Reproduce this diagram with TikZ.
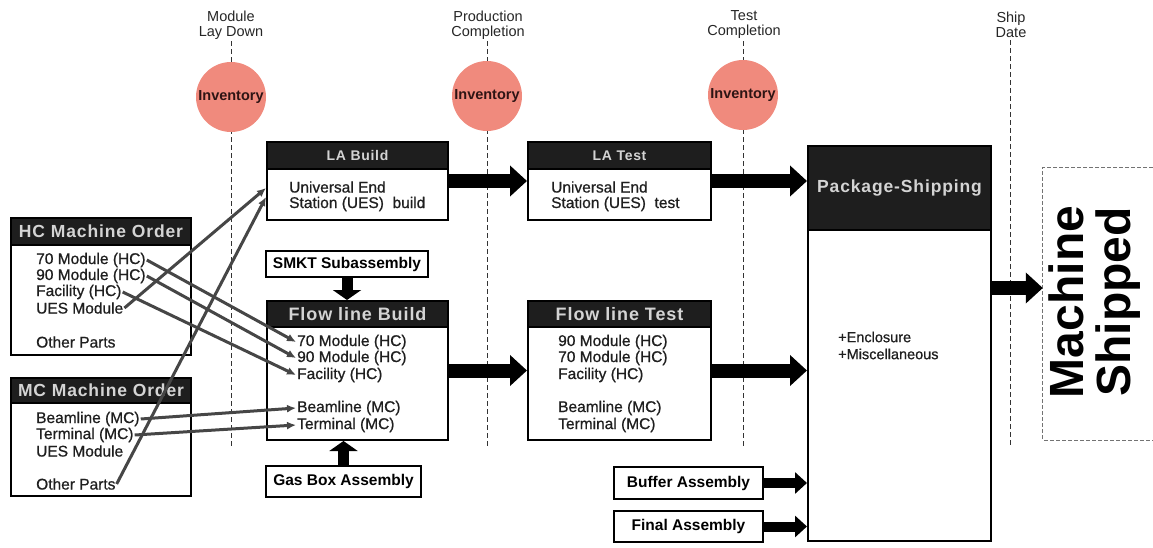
\documentclass[tikz,border=0pt]{standalone}
\usepackage{fontspec}
\setmainfont{Liberation Sans}
\newfontfamily\hdrfont[LetterSpace=5]{Liberation Sans}
\newfontfamily\bodyfont[FakeBold=0.7]{Liberation Sans}
\usetikzlibrary{arrows.meta}

\definecolor{hdrfill}{HTML}{1E1E1E}
\definecolor{hdrtext}{HTML}{D4D4D4}
\definecolor{invfill}{HTML}{F08A7D}
\definecolor{invtext}{HTML}{2E1414}
\definecolor{wire}{HTML}{464646}
\definecolor{gate}{HTML}{333333}

\tikzset{
  box/.style={draw=black, line width=2pt, fill=white, inner sep=0pt},
  hdrbar/.style={draw=black, line width=2pt, fill=hdrfill, text=hdrtext, inner sep=0pt},
  item/.style={anchor=west, inner sep=1pt, font=\bodyfont\fontsize{15.5}{16}\selectfont, text=black!88},
  tag/.style={box, font=\bfseries\fontsize{15.5}{16}\selectfont},
  inventory/.style={circle, fill=invfill, minimum size=70pt, inner sep=0pt,
    font=\bfseries\fontsize{14.5}{15}\selectfont, text=invtext},
  milestone/.style={align=center, inner sep=2pt, font=\fontsize{14.5}{15}\selectfont, text=black!85},
  gateline/.style={draw=gate, line width=1pt, dash pattern=on 5pt off 3pt},
  bigarrow/.style={line width=14pt, -{Triangle[length=17pt,width=30pt]}},
  midarrow/.style={line width=10pt, -{Triangle[length=12pt,width=21pt]}},
  uparrow/.style={line width=11pt, -{Triangle[length=10pt,width=28pt]}},
  wireline/.style={draw=wire, line width=3pt, -{Latex[length=9pt,width=8pt]}},
}

\begin{document}
\begin{tikzpicture}[x=1pt,y=-1pt]
\useasboundingbox (0,0) rectangle (1153,548);

% milestones with their dashed gate lines
\node[milestone] (m1) at (231,25) {Module\\Lay Down};
\node[milestone] (m2) at (488,25) {Production\\Completion};
\node[milestone] (m3) at (744,25) {Test\\Completion};
\node[milestone] (m4) at (1011,25) {Ship\\Date};
\coordinate (g1) at (231,447);
\coordinate (g2) at (487,447);
\coordinate (g3) at (743,447);
\coordinate (g4) at (1010,447);
\draw[gateline] (m1.south) -- (g1);
\draw[gateline] (m2.south -| g2) -- (g2);
\draw[gateline] (m3.south -| g3) -- (g3);
\draw[gateline] (m4.south -| g4) -- (g4);

\node[inventory] (i1) at (231,97) {Inventory};
\node[inventory] (i2) at (487,96) {Inventory};
\node[inventory] (i3) at (743,95) {Inventory};

% HC machine order
\node[box, minimum width=180pt, minimum height=137pt] (hc) at (101,286.5) {};
\node[hdrbar, minimum width=180pt, minimum height=27pt, anchor=north,
  font=\hdrfont\bfseries\fontsize{17.5}{18}\selectfont] (hch) at (hc.north) {HC Machine Order};
\node[item] (hc70) at (35,260) {70 Module (HC)};
\node[item] (hc90) at (35,276) {90 Module (HC)};
\node[item] (hcfac) at (35,292) {Facility (HC)};
\node[item] (hcues) at (35,308) {UES Module};
\node[item] (hcoth) at (35,342) {Other Parts};

% MC machine order
\node[box, minimum width=180pt, minimum height=118pt] (mc) at (101,437) {};
\node[hdrbar, minimum width=180pt, minimum height=25pt, anchor=north,
  font=\hdrfont\bfseries\fontsize{17.5}{18}\selectfont] (mch) at (mc.north) {MC Machine Order};
\node[item] (mcbeam) at (35,419) {Beamline (MC)};
\node[item] (mcterm) at (35,435) {Terminal (MC)};
\node[item] (mcues) at (35,451) {UES Module};
\node[item] (mcoth) at (35,484) {Other Parts};

% LA build and test
\node[box, minimum width=181pt, minimum height=78pt] (lab) at (357.5,181) {};
\node[hdrbar, minimum width=181pt, minimum height=27pt, anchor=north,
  font=\hdrfont\bfseries\fontsize{14}{15}\selectfont] (labh) at (lab.north) {LA Build};
\node[item] (lab1) at (288,187) {Universal End};
\node[item] (lab2) at (288,204) {Station (UES)\ \ build};

\node[box, minimum width=183pt, minimum height=78pt] (lat) at (619.5,181) {};
\node[hdrbar, minimum width=183pt, minimum height=27pt, anchor=north,
  font=\hdrfont\bfseries\fontsize{14}{15}\selectfont] (lath) at (lat.north) {LA Test};
\node[item] (lat1) at (550,187) {Universal End};
\node[item] (lat2) at (550,204) {Station (UES)\ \ test};

% flow line build and test
\node[tag, minimum width=162pt, minimum height=26pt] (smkt) at (347,264) {SMKT Subassembly};

\node[box, minimum width=181pt, minimum height=139pt] (fb) at (357.5,370.5) {};
\node[hdrbar, minimum width=181pt, minimum height=26pt, anchor=north,
  font=\hdrfont\bfseries\fontsize{18}{19}\selectfont] (fbh) at (fb.north) {Flow line Build};
\node[item] (fb70) at (296,342) {70 Module (HC)};
\node[item] (fb90) at (296,358) {90 Module (HC)};
\node[item] (fbfac) at (296,375) {Facility (HC)};
\node[item] (fbbeam) at (296,408) {Beamline (MC)};
\node[item] (fbterm) at (296,425) {Terminal (MC)};

\node[tag, minimum width=155pt, minimum height=31pt] (gas) at (343.5,481.5) {Gas Box Assembly};

\node[box, minimum width=183pt, minimum height=139pt] (ft) at (619.5,370.5) {};
\node[hdrbar, minimum width=183pt, minimum height=26pt, anchor=north,
  font=\hdrfont\bfseries\fontsize{18}{19}\selectfont] (fth) at (ft.north) {Flow line Test};
\node[item] (ft90) at (557,342) {90 Module (HC)};
\node[item] (ft70) at (557,358) {70 Module (HC)};
\node[item] (ftfac) at (557,375) {Facility (HC)};
\node[item] (ftbeam) at (557,408) {Beamline (MC)};
\node[item] (ftterm) at (557,425) {Terminal (MC)};

% package-shipping and its feeders
\node[box, minimum width=183pt, minimum height=395pt] (pkg) at (899.5,343.5) {};
\node[hdrbar, minimum width=183pt, minimum height=84pt, anchor=north,
  font=\hdrfont\bfseries\fontsize{17.5}{18}\selectfont] (pkgh) at (pkg.north) {Package-Shipping};
\node[item, font=\bodyfont\fontsize{14.5}{15}\selectfont] (enc) at (837,337) {+Enclosure};
\node[item, font=\bodyfont\fontsize{14.5}{15}\selectfont] (misc) at (837,354) {+Miscellaneous};

\node[tag, minimum width=149pt, minimum height=32pt] (buf) at (688.5,483) {Buffer Assembly};
\node[tag, minimum width=149pt, minimum height=31pt] (fin) at (688.5,526.5) {Final Assembly};

% shipped machine
\node[minimum width=110pt, minimum height=272pt, inner sep=0pt] (ship) at (1098,304) {};
\draw[draw=black!55, line width=1pt, dash pattern=on 4pt off 2pt]
  (ship.north east) -- (ship.north west) -- (ship.south west) -- (ship.south east);
\node[rotate=90, align=center, inner sep=0pt,
  font=\bfseries\fontsize{48}{47}\selectfont] (shiptext) at (1095,302) {Machine\\Shipped};
\coordinate (shipin) at ([yshift=16pt]ship.west);

% material flow
\draw[bigarrow] (lab.east) -- (lat.west);
\draw[bigarrow] (lat.east) -- (lat.east -| pkg.west);
\draw[bigarrow] (fb.east) -- (ft.west);
\draw[bigarrow] (ft.east) -- (ft.east -| pkg.west);
\draw[bigarrow] (pkg.east |- shipin) -- (shipin);
\draw[midarrow] (buf.east) -- (buf.east -| pkg.west);
\draw[midarrow] (fin.east) -- (fin.east -| pkg.west);
\draw[uparrow] (smkt.south) -- (smkt.south |- fb.north);
\draw[uparrow] (gas.north) -- (gas.north |- fb.south);

% order items routed to the build stations
\draw[wireline] (hc70.east) -- (fb70.west);
\draw[wireline] (hc90.east) -- (fb90.west);
\draw[wireline] (hcfac.east) -- (fbfac.west);
\draw[wireline] (mcbeam.east) -- (fbbeam.west);
\draw[wireline] (mcterm.east) -- (fbterm.west);
\draw[wireline] (hcues.east) -- ([yshift=-7pt]lab.west);
\draw[wireline] (mcoth.east) -- ([yshift=-16pt]lab.west);
\end{tikzpicture}
\end{document}
